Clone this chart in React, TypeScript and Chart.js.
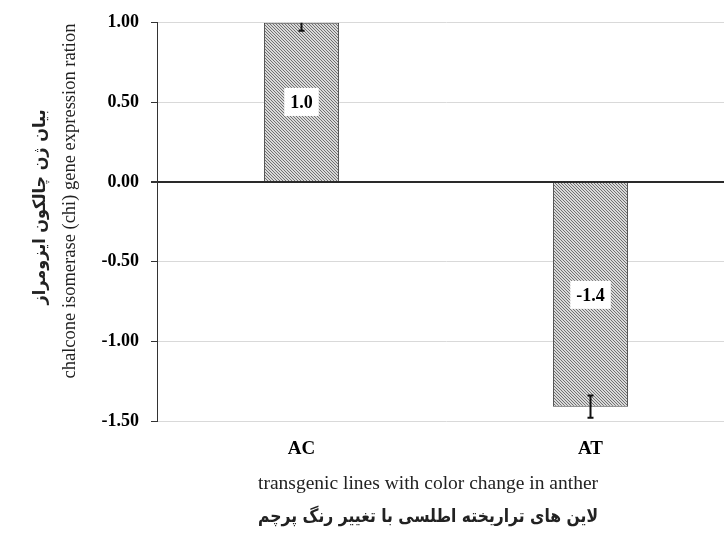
import React, { useEffect, useRef } from "react";
import { Chart, registerables } from "chart.js";

Chart.register(...registerables);

const categories = ["AC", "AT"];
const values = [1.0, -1.41];
const errors = [0.05, 0.07];
const valueLabels = ["1.0", "-1.4"];
const yMin = -1.5;
const yMax = 1.0;
const yStep = 0.5;
const yTitleEn = "chalcone isomerase (chi) gene expression ration";
const yTitleFa = "بیان ژن چالکون ایزومراز";
const xTitleEn = "transgenic lines with color change in anther";
const xTitleFa = "لاین های تراریخته اطلسی با تغییر رنگ پرچم";

const SERIF = "'Liberation Serif', 'Times New Roman', serif";
const FA = "'DejaVu Sans', sans-serif";

function makePattern(): CanvasPattern | string {
  const c = document.createElement("canvas");
  c.width = 3;
  c.height = 3;
  const g = c.getContext("2d");
  if (!g) return "#b5b5b5";
  g.fillStyle = "#d9d9d9";
  g.fillRect(0, 0, 3, 3);
  g.fillStyle = "#707070";
  for (let i = 0; i < 3; i++) g.fillRect(i, i, 1, 1);
  return g.createPattern(c, "repeat") || "#b5b5b5";
}

const overlayPlugin = {
  id: "overlay",
  afterDatasetsDraw(chart: any) {
    const ctx = chart.ctx;
    const meta = chart.getDatasetMeta(0);
    const ys = chart.scales.y;
    const area = chart.chartArea;
    // error bars
    ctx.save();
    ctx.beginPath();
    ctx.rect(area.left, area.top, area.right - area.left, area.bottom - area.top);
    ctx.clip();
    ctx.strokeStyle = "#111";
    ctx.lineWidth = 2;
    meta.data.forEach((el: any, i: number) => {
      const x = el.x;
      const y1 = ys.getPixelForValue(values[i] + errors[i]);
      const y2 = ys.getPixelForValue(values[i] - errors[i]);
      ctx.beginPath();
      ctx.moveTo(x, y1);
      ctx.lineTo(x, y2);
      ctx.moveTo(x - 3, y1);
      ctx.lineTo(x + 3, y1);
      ctx.moveTo(x - 3, y2);
      ctx.lineTo(x + 3, y2);
      ctx.stroke();
    });
    ctx.restore();
    // value labels
    ctx.save();
    ctx.font = "bold 18px " + SERIF;
    ctx.textAlign = "center";
    ctx.textBaseline = "middle";
    meta.data.forEach((el: any, i: number) => {
      const x = el.x;
      const y = (el.y + el.base) / 2;
      const t = valueLabels[i];
      const w = ctx.measureText(t).width + 12;
      const h = 28;
      ctx.fillStyle = "#ffffff";
      ctx.fillRect(x - w / 2, y - h / 2, w, h);
      ctx.fillStyle = "#000";
      ctx.fillText(t, x, y + 1);
    });
    ctx.restore();
  },
  afterDraw(chart: any) {
    const ctx = chart.ctx;
    ctx.save();
    ctx.fillStyle = "#222";
    ctx.textAlign = "center";
    ctx.textBaseline = "middle";
    // y titles (rotated)
    ctx.save();
    ctx.translate(70, 201);
    ctx.rotate(-Math.PI / 2);
    ctx.font = "18.5px " + SERIF;
    ctx.fillText(yTitleEn, 0, 0);
    ctx.restore();
    ctx.save();
    ctx.translate(41, 207);
    ctx.rotate(-Math.PI / 2);
    ctx.font = "bold 17px " + FA;
    ctx.direction = "rtl";
    ctx.fillText(yTitleFa, 0, 0, 195);
    ctx.restore();
    // x titles
    ctx.font = "19.5px " + SERIF;
    ctx.fillText(xTitleEn, 428, 484);
    ctx.font = "bold 18px " + FA;
    ctx.direction = "rtl";
    ctx.fillText(xTitleFa, 428, 517, 340);
    ctx.restore();
  },
};

export default function App() {
  const ref = useRef<HTMLCanvasElement>(null);
  useEffect(() => {
    if (!ref.current) return;
    const chart = new Chart(ref.current, {
      type: "bar",
      data: {
        labels: categories,
        datasets: [
          {
            data: values,
            backgroundColor: makePattern() as any,
            borderColor: "#444",
            borderWidth: 1,
            categoryPercentage: 1,
            barPercentage: 0.26,
          },
        ],
      },
      options: {
        responsive: false,
        animation: false,
        layout: { padding: { top: 20, right: 5, left: 0, bottom: 0 } },
        plugins: { legend: { display: false }, tooltip: { enabled: false } },
        scales: {
          x: {
            offset: true,
            grid: { display: false, drawTicks: false },
            border: { display: false },
            ticks: {
              padding: 17,
              color: "#000",
              font: { family: SERIF, size: 19, weight: "bold" },
            },
            afterFit: (s: any) => {
              s.height = 115;
            },
          },
          y: {
            min: yMin,
            max: yMax,
            ticks: {
              stepSize: yStep,
              padding: 12,
              color: "#000",
              font: { family: SERIF, size: 18, weight: "bold" },
              callback: (v: any) => Number(v).toFixed(2),
            },
            grid: {
              color: (c: any) => (c.tick && Math.abs(c.tick.value) < 1e-9 ? "#2a2a2a" : "#d9d9d9"),
              lineWidth: (c: any) => (c.tick && Math.abs(c.tick.value) < 1e-9 ? 2 : 1),
              tickColor: "#333",
              tickLength: 6,
            },
            border: { display: true, color: "#333", width: 1 },
            afterFit: (s: any) => {
              s.width = 157;
            },
          },
        },
      },
      plugins: [overlayPlugin],
    });
    return () => chart.destroy();
  }, []);
  return (
    <div
      style={{
        position: "absolute",
        left: 0,
        top: 0,
        width: 724,
        height: 536,
        overflow: "hidden",
        background: "#fff",
      }}
    >
      <canvas ref={ref} width={740} height={536} style={{ display: "block" }} />
    </div>
  );
}
